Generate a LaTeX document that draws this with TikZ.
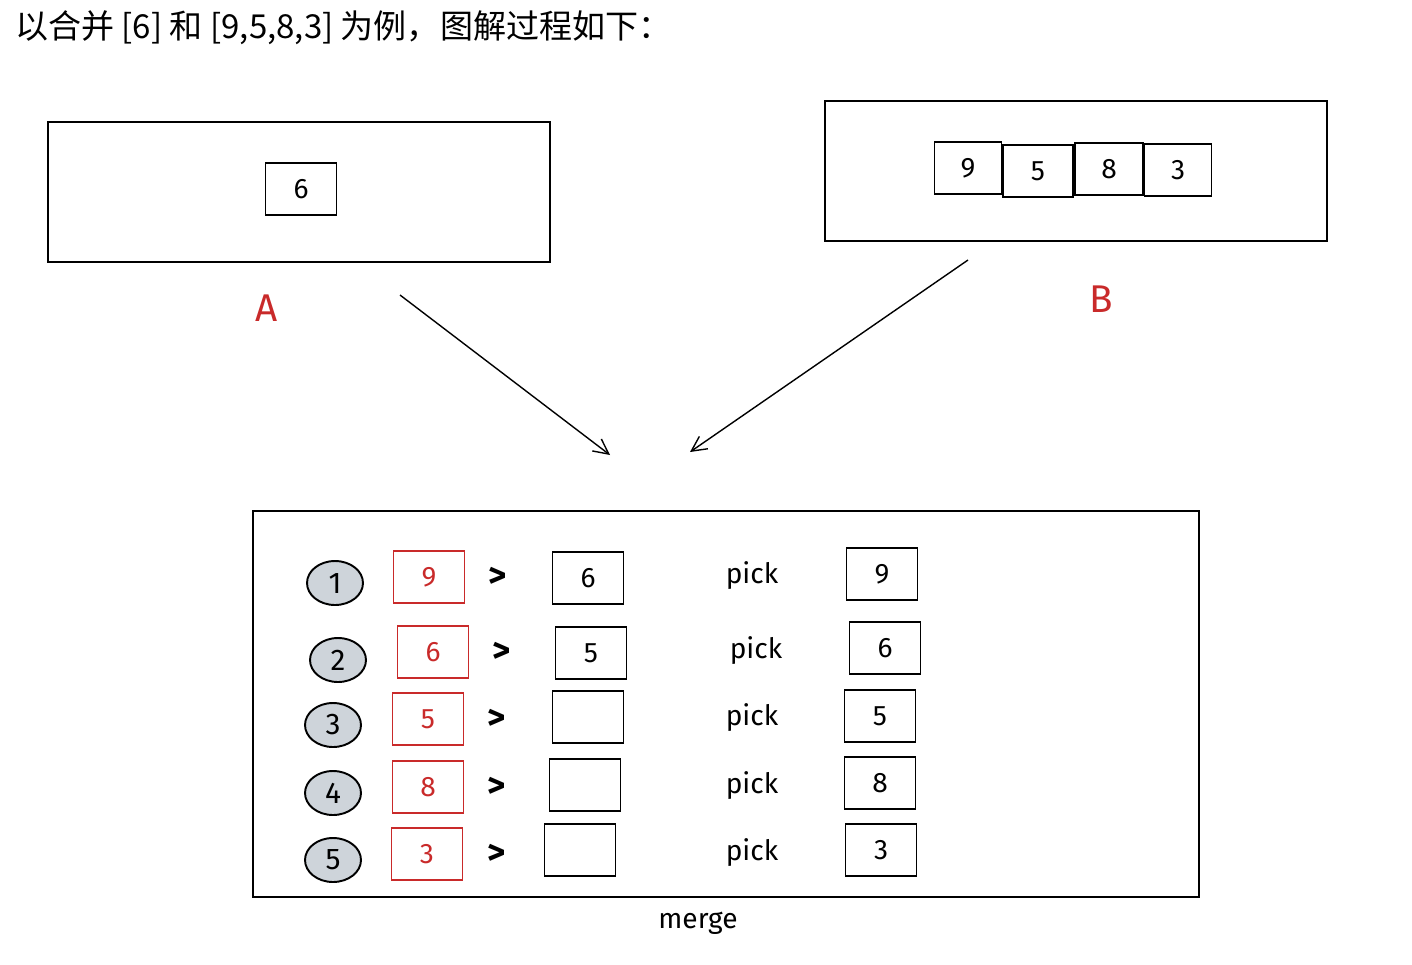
\documentclass[tikz,border=0pt]{standalone}
\usepackage{fontspec}
\setmainfont{Fira Sans}
\newfontfamily\cjk{Noto Sans CJK SC}
\usetikzlibrary{arrows.meta,shapes.geometric}
\definecolor{penred}{HTML}{C92A2A}
\definecolor{chipgray}{HTML}{CED4DA}
\begin{document}
\begin{tikzpicture}[x=0.02cm, y=-0.02cm, >={Straight Barb[length=3mm,width=3mm]},
  frame/.style={draw, line width=1.2pt, minimum width=10.04cm, minimum height=2.8cm},
  cell/.style={draw, line width=1.1pt, minimum width=1.42cm, minimum height=1.05cm, font=\fontsize{16}{18}\selectfont},
  redcell/.style={cell, draw=penred, text=penred},
  num/.style={draw, line width=1.1pt, fill=chipgray, ellipse, minimum width=1.12cm, minimum height=0.88cm, inner sep=0pt, font=\fontsize{17}{19}\selectfont},
  word/.style={font=\fontsize{16}{18}\selectfont},
  gt/.style={font=\bfseries\fontsize{20}{22}\selectfont}]
\useasboundingbox[fill=white] (0,0) rectangle (1412,964);

\node[anchor=west, inner sep=0pt, font=\cjk\fontsize{18.8}{21}\selectfont] (title) at (15,28) {以合并 [6] 和 [9,5,8,3] 为例，图解过程如下：};

% the two inputs
\node[frame] (boxA) at (299,192) {};
\node[cell] (a1) at (301,189) {6};
\node[font=\fontsize{22}{24}\selectfont, text=penred] (labA) at (267,308) {A};

\node[frame] (boxB) at (1076,171) {};
\node[cell, minimum width=1.34cm] (b1) at (968,168) {9};
\node[cell, minimum width=1.4cm] (b2) at (1038,171) {5};
\node[cell, minimum width=1.36cm] (b3) at (1109,169) {8};
\node[cell, minimum width=1.34cm] (b4) at (1178,170) {3};
\node[font=\fontsize{22}{24}\selectfont, text=penred] (labB) at (1101,299) {B};

\coordinate (fromA) at (400,295);
\coordinate (toA) at (610,455);
\coordinate (fromB) at (968,260);
\coordinate (toB) at (690,452);
\draw[->, line width=0.8pt] (fromA) -- (toA);
\draw[->, line width=0.8pt] (fromB) -- (toB);

% merge
\node[draw, line width=1.2pt, minimum width=18.94cm, minimum height=7.72cm] (box) at (726,704) {};
\node[word] (merge) at (698,923) {merge};

\node[num] (n1) at (335,583) {1};
\node[num] (n2) at (338,660) {2};
\node[num] (n3) at (333,725) {3};
\node[num] (n4) at (333,793) {4};
\node[num] (n5) at (333,860) {5};

\node[redcell] (r1) at (429,577) {9};
\node[redcell] (r2) at (433,652) {6};
\node[redcell] (r3) at (428,719) {5};
\node[redcell] (r4) at (428,787) {8};
\node[redcell] (r5) at (427,854) {3};

\node[gt] (g1) at (498,577) {>};
\node[gt] (g2) at (502,652) {>};
\node[gt] (g3) at (497,719) {>};
\node[gt] (g4) at (497,787) {>};
\node[gt] (g5) at (497,854) {>};

\node[cell] (c1) at (588,578) {6};
\node[cell] (c2) at (591,653) {5};
\node[cell] (c3) at (588,717) {};
\node[cell] (c4) at (585,785) {};
\node[cell] (c5) at (580,850) {};

\node[word] (p1) at (752,576) {pick};
\node[word] (p2) at (756,651) {pick};
\node[word] (p3) at (752,718) {pick};
\node[word] (p4) at (752,786) {pick};
\node[word] (p5) at (752,853) {pick};

\node[cell] (k1) at (882,574) {9};
\node[cell] (k2) at (885,648) {6};
\node[cell] (k3) at (880,716) {5};
\node[cell] (k4) at (880,783) {8};
\node[cell] (k5) at (881,850) {3};
\end{tikzpicture}
\end{document}
